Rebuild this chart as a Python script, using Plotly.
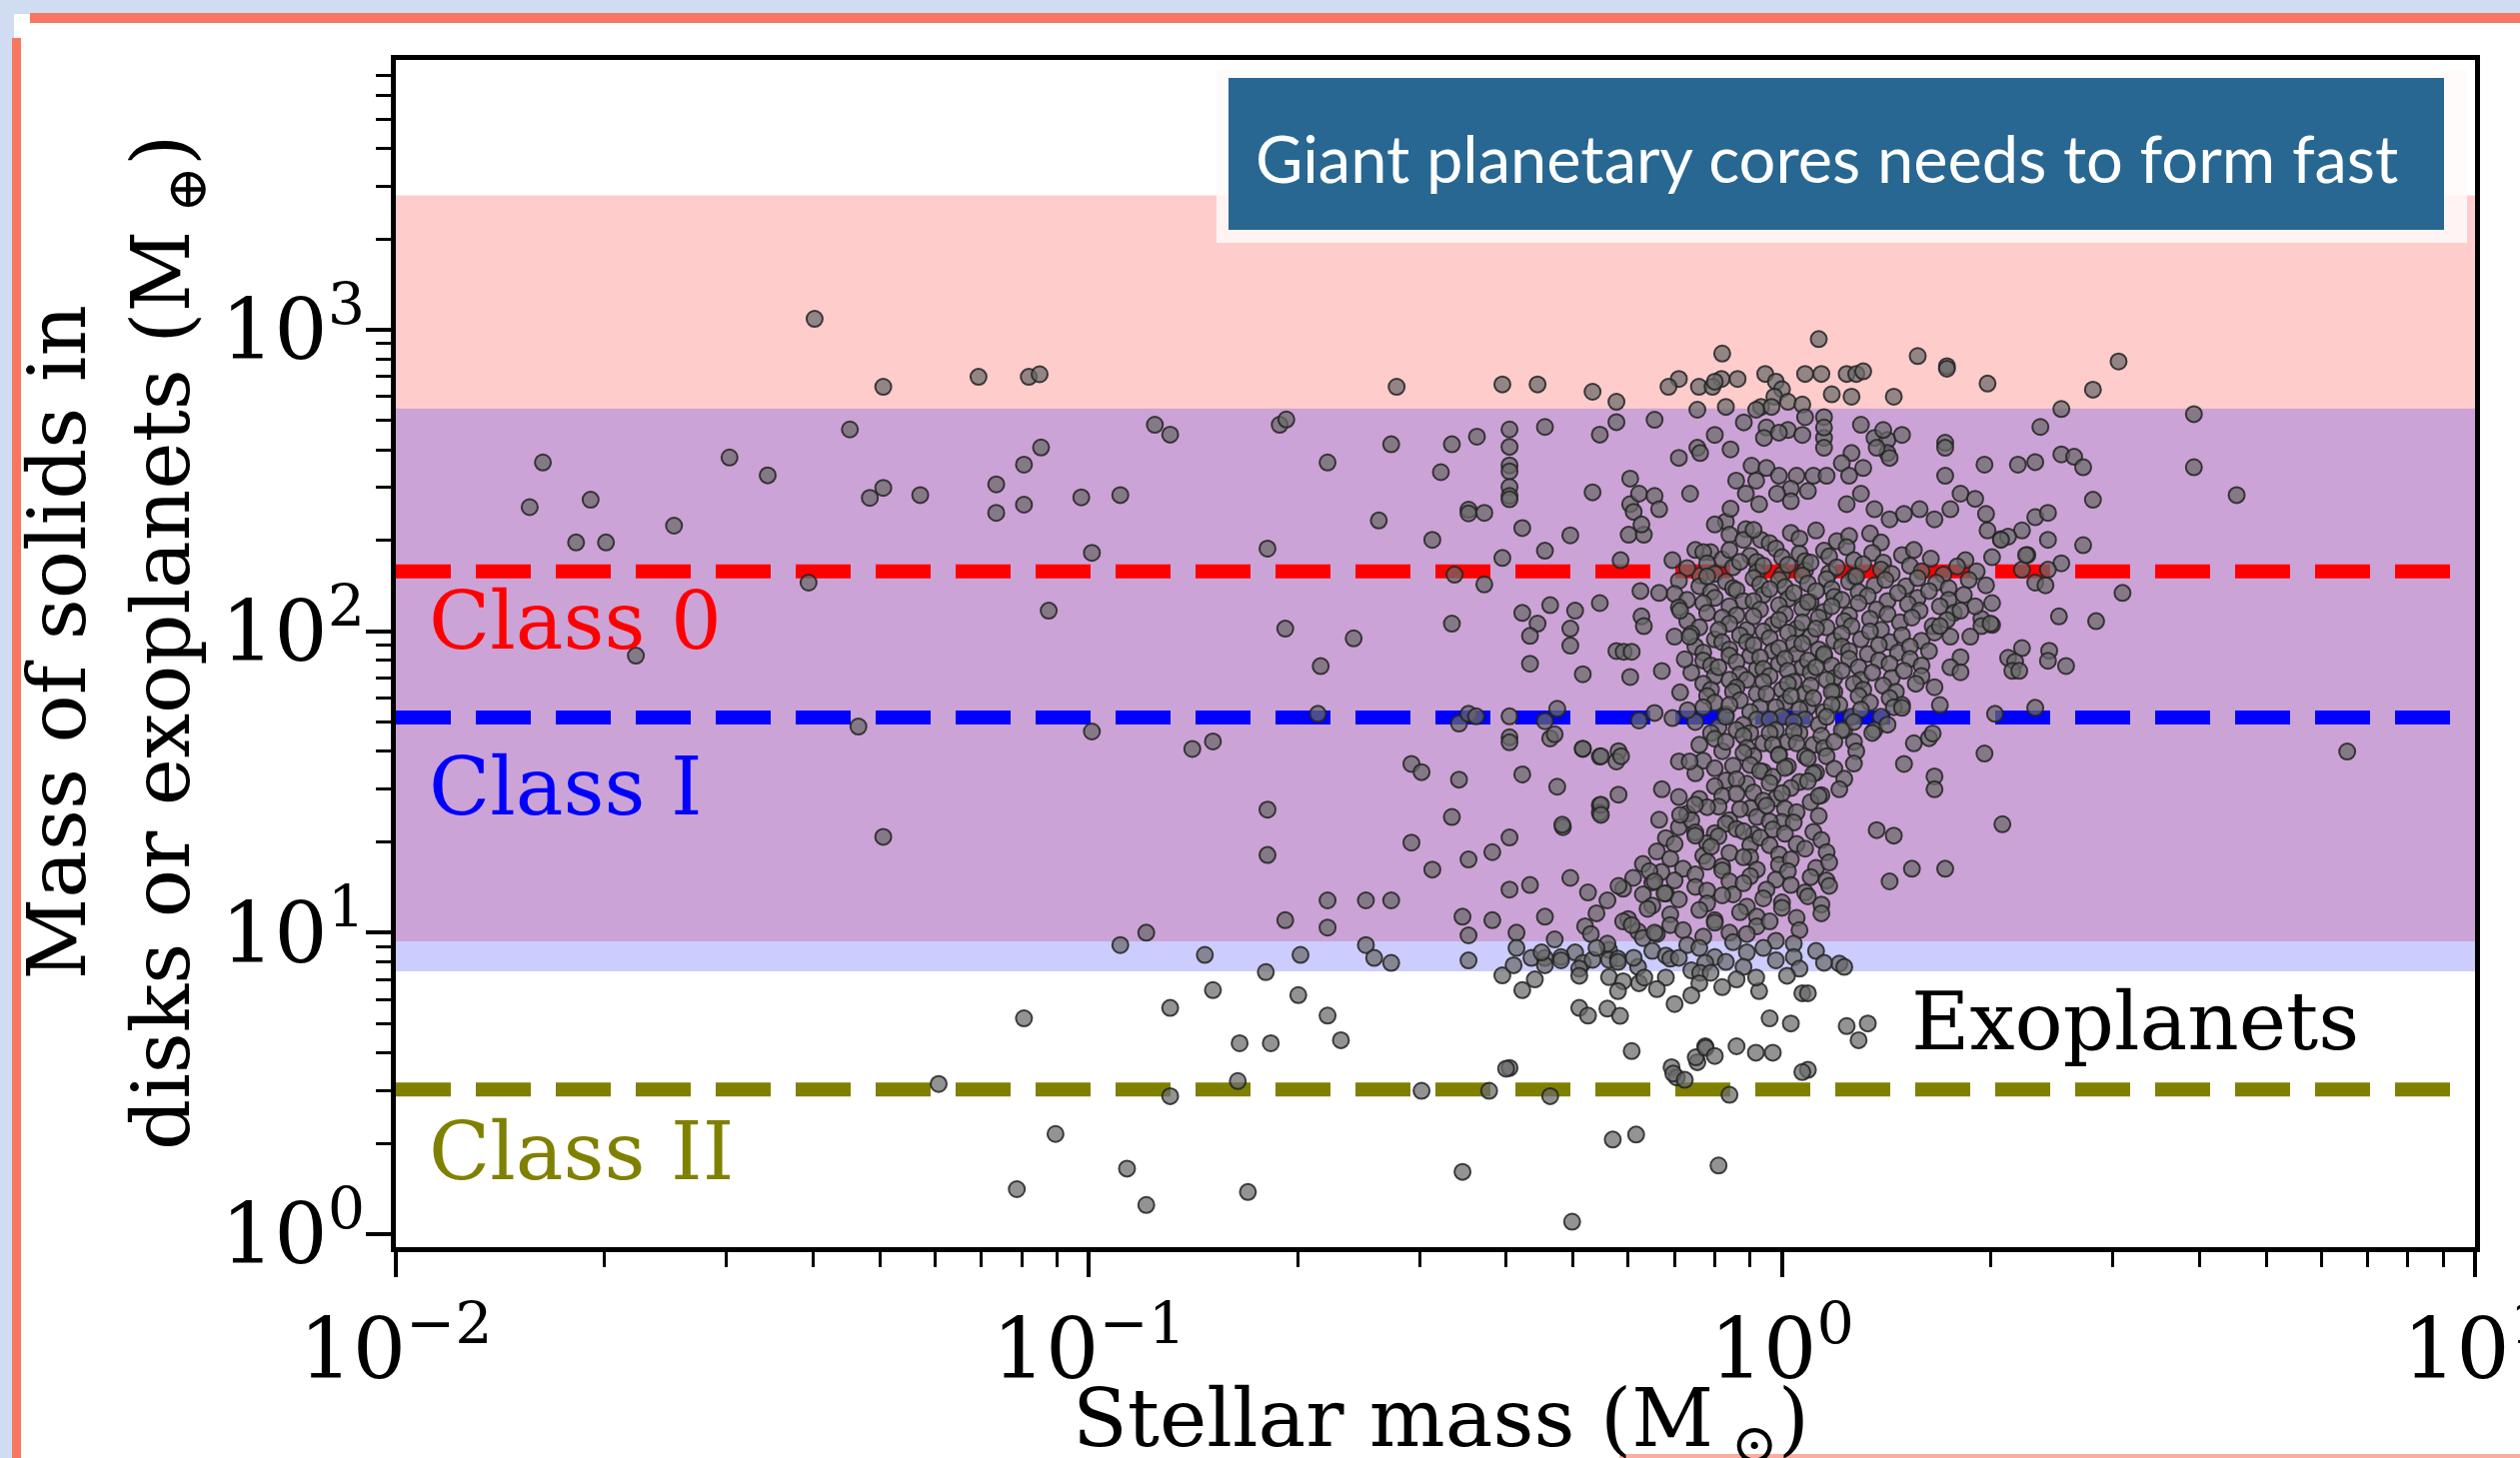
import math
import plotly.graph_objects as go

# ------------------------------------------------------------------ data
# Sparse low-mass stars / brown dwarfs (stellar mass in Msun, solids in Mearth)
lowmass_stellar = [0.0402, 0.0505, 0.0693, 0.0819, 0.0849, 0.0452, 0.0163, 0.0156, 0.0191, 0.0182,
                   0.0201, 0.0252, 0.0303, 0.0344, 0.0483, 0.0505, 0.0571, 0.0735, 0.0735, 0.0806,
                   0.0806, 0.0853, 0.0975, 0.101, 0.0394, 0.0875, 0.0222, 0.0465, 0.101, 0.0505,
                   0.0806, 0.0607, 0.0895, 0.0787]
lowmass_solids = [1087, 647, 698, 698, 712, 467, 363, 258, 273, 197,
                  197, 224, 377, 329, 277, 299, 283, 307, 247, 357,
                  263, 407, 278, 182, 145, 117, 83, 48.3, 46.5, 20.8,
                  5.2, 3.15, 2.15, 1.41]

# Intermediate stellar masses (0.1 - 0.6 Msun)
mid_stellar = [0.278, 0.395, 0.444, 0.533, 0.577, 0.1245, 0.131, 0.1885, 0.1927, 0.273,
               0.221, 0.334, 0.363, 0.4045, 0.4045, 0.4045, 0.4045, 0.4045, 0.4045, 0.4045,
               0.455, 0.546, 0.577, 0.322, 0.111, 0.533, 0.353, 0.353, 0.372, 0.262,
               0.313, 0.181, 0.422, 0.495, 0.455, 0.395, 0.337, 0.372, 0.546, 0.422,
               0.444, 0.433, 0.463, 0.503, 0.495, 0.495, 0.433, 0.516, 0.577, 0.334,
               0.192, 0.241, 0.216, 0.214, 0.342, 0.353, 0.362, 0.4045, 0.4045, 0.4045,
               0.455, 0.463, 0.470, 0.474, 0.141, 0.151, 0.292, 0.302, 0.342, 0.422,
               0.516, 0.546, 0.474, 0.181, 0.181, 0.334, 0.483, 0.546, 0.546, 0.292,
               0.313, 0.353, 0.382, 0.4045, 0.4045, 0.433, 0.495, 0.525, 0.221, 0.221,
               0.192, 0.251, 0.273, 0.346, 0.353, 0.382, 0.455, 0.414, 0.111, 0.121,
               0.147, 0.202, 0.251, 0.258, 0.273, 0.353, 0.414, 0.435, 0.455, 0.455,
               0.503, 0.516, 0.533, 0.563, 0.563, 0.563, 0.131, 0.151, 0.180, 0.2005,
               0.221, 0.231, 0.165, 0.183, 0.395, 0.422, 0.510, 0.525, 0.4045, 0.131,
               0.164, 0.302, 0.378, 0.463, 0.570, 0.616, 0.1135, 0.121, 0.1696, 0.346,
               0.498, 0.81]
mid_solids = [647, 659, 659, 623, 577, 484, 449, 484, 504, 417,
              363, 417, 442, 467, 409, 355, 339, 301, 281, 274,
              476, 449, 494, 337, 283, 289, 253, 246, 247, 233,
              201, 188, 220, 208, 185, 175, 154, 143, 124, 115,
              106, 96.5, 122, 117, 102, 89.6, 78, 72, 86, 106,
              102, 94.7, 76.6, 53.2, 49.4, 53.2, 52.2, 52.2, 44.5, 42.8,
              50.3, 44.1, 45.5, 55.3, 40.7, 43.1, 36.3, 34.1, 32.2, 33.5,
              40.7, 38.4, 30.5, 25.6, 18.1, 24.2, 22.4, 26.5, 25.0, 19.9,
              16.2, 17.5, 18.5, 20.7, 13.9, 14.4, 15.2, 13.6, 12.8, 10.4,
              11.0, 12.8, 12.8, 11.3, 9.8, 11.0, 11.3, 10.0, 9.1, 10.0,
              8.44, 8.44, 9.1, 8.25, 7.94, 8.09, 8.9, 8.25, 8.25, 7.8,
              8.6, 7.94, 8.13, 8.77, 8.13, 7.12, 5.63, 6.45, 7.4, 6.21,
              5.31, 4.40, 4.30, 4.30, 7.22, 6.45, 5.63, 5.31, 3.56, 2.87,
              3.22, 2.99, 2.99, 2.87, 2.06, 2.14, 1.65, 1.25, 1.38, 1.61,
              1.10, 1.69]

# Higher stellar masses (~2 - 7 Msun)
high_stellar = [3.06, 2.81, 1.98, 2.53, 2.36, 3.93, 3.93, 4.53, 6.54, 1.96,
                2.19, 2.32, 2.53, 2.64, 2.72, 2.81, 2.32, 2.42, 2.22, 1.98,
                2.07, 2.12, 2.42, 2.72, 2.26, 2.01, 2.53, 2.22, 2.42, 2.32,
                2.40, 1.97, 3.10, 2.01, 2.51, 2.84, 2.01, 1.94, 2.22, 2.12,
                2.17, 2.15, 2.20, 2.43, 2.42, 2.57, 2.03, 2.32, 1.96, 2.08]
high_solids = [785, 633, 663, 546, 476, 525, 350, 283, 39.9, 357,
               357, 364, 386, 379, 350, 273, 239, 247, 216, 216,
               202, 206, 201, 193, 179, 176, 168, 160, 160, 145,
               142, 142, 134, 124, 112, 108, 105, 110, 87.9, 81.6,
               79.2, 73.9, 73.9, 86.2, 79.8, 76.7, 53.2, 55.7, 39.3, 22.9]

# Solar-type stars, upper part of the distribution
upper_stellar = [1.13, 0.82, 1.57, 1.73, 1.73, 0.946, 1.08, 1.14, 1.24, 1.28,
                 1.31, 0.863, 0.818, 0.71, 0.686, 0.759, 0.794, 0.98, 1.0, 0.975,
                 0.933, 0.966, 1.02, 1.18, 1.26, 1.45, 1.07, 1.15, 0.80, 0.83,
                 0.755, 0.655, 0.71, 0.755, 0.80, 0.843, 0.762, 0.881, 0.95, 0.918,
                 1.02, 1.07, 1.08, 0.942, 0.99, 1.15, 1.15, 1.15, 1.30, 1.36,
                 1.42, 1.42, 1.49, 1.40, 1.72, 1.72, 1.72, 1.26, 1.22, 1.25,
                 1.31, 1.37, 1.43, 0.904, 0.95, 0.918, 0.99, 1.05, 1.11, 1.16,
                 1.03, 1.09, 0.984, 1.03, 0.859, 0.887, 0.927, 0.83, 0.887, 0.933,
                 0.80, 0.843, 0.737, 0.604, 0.604, 0.611, 0.622, 0.655, 0.665, 0.601,
                 0.632, 0.627, 0.585, 0.695, 0.75, 0.789, 0.762, 1.24, 1.30, 1.36,
                 1.43, 1.50, 1.58, 1.66, 1.75, 1.81, 1.90, 1.97, 2.07, 2.25,
                 1.84]
upper_solids = [931, 834, 818, 757, 743, 714, 714, 714, 714, 714,
                728, 687, 687, 687, 647, 647, 647, 673, 635, 600,
                555, 555, 577, 611, 600, 600, 565, 513, 673, 555,
                543, 503, 376, 406, 448, 401, 390, 493, 474, 543,
                465, 448, 513, 438, 456, 438, 406, 474, 484, 438,
                431, 390, 448, 465, 422, 406, 328, 390, 361, 328,
                348, 406, 376, 354, 348, 316, 328, 328, 328, 328,
                297, 292, 286, 270, 316, 286, 264, 231, 218, 201,
                226, 255, 286, 321, 264, 249, 286, 281, 254, 209,
                209, 226, 172, 172, 186, 183, 153, 264, 286, 254,
                235, 245, 254, 235, 254, 286, 275, 245, 201, 179,
                172]

# Dense core of the solar-type population (one line per band of solid mass)
core_stellar = (
    [0.84, 0.88, 0.91, 0.96, 1.03, 1.06, 1.12, 1.20, 1.25, 1.34, 1.39]
    + [0.77, 0.82, 0.84, 0.90, 0.92, 0.98, 1.00, 1.06, 1.08, 1.15, 1.17, 1.24, 1.27, 1.35, 1.40, 1.49, 1.55, 1.64]
    + [0.73, 0.78, 0.80, 0.85, 0.87, 0.92, 0.94, 1.00, 1.02, 1.08, 1.10, 1.17, 1.20, 1.27, 1.31, 1.39, 1.44, 1.53, 1.59, 1.71, 1.79, 1.91]
    + [0.71, 0.76, 0.78, 0.83, 0.85, 0.91, 0.93, 0.99, 1.01, 1.07, 1.09, 1.16, 1.18, 1.25, 1.28, 1.36, 1.41, 1.51, 1.57, 1.67, 1.74, 1.86]
    + [0.70, 0.73, 0.79, 0.80, 0.86, 0.88, 0.94, 0.96, 1.02, 1.04, 1.10, 1.12, 1.19, 1.22, 1.29, 1.33, 1.42, 1.47, 1.57, 1.63, 1.74, 1.83]
    + [0.71, 0.77, 0.78, 0.84, 0.86, 0.91, 0.93, 0.99, 1.01, 1.07, 1.09, 1.15, 1.18, 1.25, 1.29, 1.37, 1.42, 1.52, 1.58, 1.69, 1.77]
    + [0.73, 0.76, 0.82, 0.84, 0.89, 0.91, 0.97, 0.99, 1.05, 1.07, 1.13, 1.16, 1.23, 1.26, 1.34, 1.39, 1.48, 1.54, 1.65, 1.73]
    + [0.74, 0.80, 0.81, 0.87, 0.89, 0.94, 0.96, 1.02, 1.04, 1.10, 1.12, 1.19, 1.22, 1.30, 1.34, 1.43, 1.49, 1.59, 1.66]
    + [0.75, 0.77, 0.82, 0.84, 0.90, 0.91, 0.97, 0.99, 1.05, 1.07, 1.13, 1.15, 1.22, 1.25, 1.33, 1.38, 1.47, 1.53, 1.63]
    + [0.77, 0.79, 0.84, 0.86, 0.92, 0.93, 0.99, 1.01, 1.07, 1.09, 1.15, 1.18, 1.25, 1.29, 1.38, 1.43, 1.53, 1.59]
    + [0.74, 0.80, 0.81, 0.87, 0.89, 0.94, 0.96, 1.02, 1.04, 1.10, 1.12, 1.19, 1.22, 1.30, 1.35, 1.44, 1.50, 1.59]
    + [0.77, 0.79, 0.84, 0.86, 0.92, 0.94, 1.00, 1.02, 1.08, 1.10, 1.16, 1.19, 1.27, 1.31, 1.40, 1.46, 1.56]
    + [0.78, 0.80, 0.85, 0.87, 0.93, 0.95, 1.01, 1.03, 1.09, 1.11, 1.18, 1.21, 1.29, 1.34, 1.43, 1.49]
    + [0.77, 0.83, 0.84, 0.90, 0.92, 0.98, 1.00, 1.06, 1.08, 1.15, 1.18, 1.26, 1.30, 1.39, 1.45]
    + [0.75, 0.81, 0.83, 0.88, 0.90, 0.96, 0.98, 1.04, 1.06, 1.13, 1.16, 1.23, 1.27, 1.36, 1.42]
    + [0.79, 0.80, 0.86, 0.88, 0.94, 0.96, 1.02, 1.04, 1.11, 1.14, 1.22, 1.27, 1.35]
    + [0.76, 0.82, 0.83, 0.89, 0.91, 0.97, 0.99, 1.05, 1.08, 1.15, 1.19, 1.28]
    + [0.77, 0.80, 0.88, 0.90, 0.94, 0.99, 1.02, 1.09, 1.12, 1.16, 1.27]
    + [0.75, 0.83, 0.85, 0.89, 0.93, 0.97, 1.01, 1.06, 1.11, 1.19, 1.23]
    + [0.80, 0.82, 0.86, 0.91, 0.96, 0.98, 1.03, 1.09, 1.14, 1.21]
    + [0.76, 0.81, 0.86, 0.90, 0.94, 1.00, 1.01, 1.10, 1.13]
    + [0.73, 0.78, 0.84, 0.87, 0.92, 0.95, 1.00, 1.05, 1.13]
    + [0.71, 0.74, 0.80, 0.83, 0.86, 0.91, 0.96, 0.97, 1.04, 1.11]
    + [0.68, 0.75, 0.78, 0.81, 0.88, 0.90, 0.93, 1.01, 1.05, 1.14]
    + [0.66, 0.70, 0.77, 0.79, 0.84, 0.90, 0.96, 0.99, 1.08, 1.16]
    + [0.63, 0.69, 0.72, 0.78, 0.82, 0.88, 0.92, 0.99, 1.03, 1.12, 1.17]
    + [0.61, 0.67, 0.70, 0.75, 0.82, 0.84, 0.90, 0.98, 1.02, 1.10, 1.16]
    + [0.59, 0.65, 0.68, 0.75, 0.78, 0.85, 0.88, 0.95, 1.03, 1.08, 1.17]
    + [0.56, 0.63, 0.65, 0.71, 0.78, 0.82, 0.89, 0.94, 1.00, 1.09, 1.14]
    + [0.54, 0.60, 0.64, 0.69, 0.76, 0.80, 0.87, 0.92, 1.00, 1.05, 1.14]
    + [0.52, 0.59, 0.62, 0.69, 0.72, 0.80, 0.84, 0.92, 0.96, 1.06]
    + [0.47, 0.53, 0.56, 0.63, 0.66, 0.73, 0.77, 0.85, 0.89, 0.98, 1.04]
    + [0.45, 0.48, 0.54, 0.58, 0.65, 0.68, 0.76, 0.80, 0.89, 0.94, 1.04, 1.12]
    + [0.41, 0.48, 0.51, 0.58, 0.62, 0.69, 0.74, 0.83, 0.88, 0.98, 1.06, 1.21]
)
core_solids = (
    [209, 201, 217, 196, 212, 203, 216, 199, 207, 211, 197]
    + [183, 173, 186, 178, 170, 188, 176, 181, 171, 185, 177, 190, 172, 182, 169, 179, 186, 174]
    + [162, 168, 155, 163, 170, 157, 165, 154, 166, 159, 169, 156, 163, 152, 167, 160, 155, 165, 158, 154, 164, 158]
    + [147, 141, 152, 146, 139, 150, 143, 148, 140, 153, 144, 149, 138, 146, 152, 142, 148, 141, 150, 145, 139, 148]
    + [133, 127, 135, 129, 137, 126, 132, 138, 128, 134, 125, 136, 130, 127, 135, 131, 126, 134, 129, 136, 127, 132]
    + [120, 124, 115, 121, 113, 126, 118, 122, 114, 119, 125, 116, 121, 113, 124, 118, 114, 123, 117, 121, 115]
    + [108, 103, 111, 106, 101, 112, 105, 109, 102, 107, 111, 103, 108, 104, 110, 101, 107, 111, 104, 109]
    + [98, 94, 101, 97, 92, 100, 95, 99, 91, 96, 102, 93, 98, 94, 100, 92, 97, 93, 99]
    + [89, 85, 92, 87, 83, 90, 86, 88, 84, 91, 87, 83, 89, 86, 84, 90, 85, 89, 86]
    + [80, 77, 83, 79, 75, 82, 78, 81, 76, 80, 84, 77, 81, 76, 80, 78, 81, 77]
    + [73, 71, 76, 72, 69, 75, 71, 74, 68, 73, 76, 70, 74, 69, 73, 70, 74, 71]
    + [67, 64, 69, 65, 62, 68, 64, 67, 62, 66, 69, 63, 67, 64, 66, 63, 67]
    + [61, 58, 63, 59, 56, 62, 58, 61, 56, 60, 63, 57, 61, 58, 60, 57]
    + [56, 53, 57, 54, 51, 56, 52, 55, 51, 54, 57, 52, 55, 52, 56]
    + [50, 48, 52, 49, 46, 51, 47, 50, 46, 49, 52, 47, 50, 47, 49]
    + [46, 44, 47, 45, 42.5, 46, 43, 46.5, 42, 45, 47, 43, 46]
    + [42, 40, 43, 41, 38.5, 42, 39, 42.5, 38.5, 41, 43, 40]
    + [37.2, 35.1, 39.5, 36.0, 34.2, 38.8, 35.6, 37.9, 34.0, 38.5, 36.4]
    + [33.8, 32.0, 35.8, 31.2, 34.4, 32.9, 35.2, 31.6, 33.7, 35.0, 32.4]
    + [30.6, 28.4, 32.3, 29.2, 31.4, 27.9, 30.2, 31.8, 28.6, 29.9]
    + [27.8, 26.2, 28.9, 25.9, 27.4, 29.0, 25.8, 27.1, 28.4]
    + [24.8, 26.1, 23.6, 25.7, 24.2, 26.4, 23.3, 25.1, 24.4]
    + [22.4, 23.6, 21.4, 23.0, 22.1, 21.2, 23.4, 22.0, 23.2, 21.6]
    + [20.6, 21.5, 19.8, 20.9, 21.7, 19.5, 20.7, 21.3, 19.7, 20.3]
    + [18.6, 19.7, 18.0, 19.3, 18.4, 17.8, 19.5, 18.2, 19.0, 18.5]
    + [16.9, 17.6, 16.3, 17.2, 16.6, 17.8, 16.2, 16.8, 17.5, 16.4, 17.1]
    + [15.2, 15.9, 14.9, 15.6, 16.1, 14.8, 15.4, 15.0, 16.0, 15.3, 14.9]
    + [14.0, 14.7, 13.5, 14.2, 13.8, 13.4, 14.6, 13.9, 14.4, 13.6, 14.3]
    + [12.8, 13.4, 12.3, 12.9, 12.5, 13.3, 12.2, 13.0, 12.6, 13.2, 12.4]
    + [11.6, 11.1, 12.0, 11.5, 11.9, 11.0, 11.7, 11.3, 12.1, 11.2, 11.6]
    + [10.5, 10.9, 10.1, 10.6, 10.2, 10.8, 10.0, 10.5, 10.9, 10.2]
    + [9.5, 9.9, 9.2, 9.6, 9.9, 9.1, 9.7, 9.3, 9.9, 9.4, 9.2]
    + [8.6, 8.3, 8.9, 8.2, 8.7, 8.4, 8.9, 8.3, 8.6, 8.9, 8.3, 8.7]
    + [7.8, 8.1, 7.6, 8.0, 7.7, 8.2, 7.5, 8.0, 7.7, 8.1, 7.6, 7.9]
)

# Edges of the solar-type population
edge_stellar = [0.625, 0.665, 0.713, 0.700, 0.736, 0.724, 0.671, 0.713, 0.627, 0.632,
                0.591, 0.607, 0.604, 0.655, 0.622, 0.695, 0.731, 0.516, 0.548, 0.581,
                0.577, 0.586, 0.710, 0.736, 0.671, 0.710, 0.749, 0.548, 0.548, 0.581,
                0.665, 0.713, 0.75, 0.482, 0.581, 0.644, 0.655, 0.677, 0.607, 0.655,
                0.611, 0.622, 0.633, 0.71, 0.775, 0.762, 0.789, 0.927, 0.918, 1.017,
                1.07, 1.09, 1.15, 1.23, 1.03, 0.917, 0.775, 0.755, 0.693, 0.705,
                1.33, 1.29, 1.09, 0.607, 0.697, 0.724, 0.751, 0.776, 1.07, 0.56,
                0.584, 0.40, 1.94, 2.0, 1.87, 1.81, 1.75, 1.90, 1.69, 1.81,
                1.63, 1.66, 1.66, 1.72, 1.54, 1.43, 1.37, 1.45, 1.50, 1.55,
                1.65, 1.49, 1.69, 1.75, 1.81, 1.66, 0.44, 0.51, 0.59, 0.68,
                0.76, 0.86, 0.58, 0.66, 0.74, 0.82, 0.70, 0.96, 1.24, 0.86,
                0.80, 0.84, 0.97]
edge_solids = [136, 134, 117, 96, 96, 80.7, 73.8, 62.7, 112, 104,
               85.5, 85.5, 70.5, 53.6, 50.6, 51.5, 54.7, 40.8, 38.5, 40,
               37, 38.5, 37, 37, 29.9, 28.2, 26.6, 26.6, 24.6, 28.7,
               23.7, 24.6, 21, 22.8, 14.3, 16.0, 14.8, 13.5, 10.6, 10.0,
               8.26, 6.8, 7.1, 8.26, 7.95, 7.36, 7.36, 6.4, 7.1, 7.2,
               6.3, 6.3, 7.95, 7.7, 5.0, 4.0, 4.2, 3.72, 3.58, 3.31,
               5.0, 4.4, 3.51, 4.05, 3.41, 3.25, 3.86, 4.15, 3.45, 5.6,
               5.3, 3.54, 104, 106, 96, 82, 96, 121, 104, 117,
               44.2, 33, 29.9, 16.3, 16.3, 14.8, 21.9, 21, 36.3, 42.5,
               45.8, 55.7, 56.9, 76, 73.1, 65.2, 7.0, 7.2, 6.9, 7.1,
               6.8, 7.0, 6.4, 6.5, 6.2, 6.6, 5.8, 5.2, 4.9, 4.2,
               3.9, 2.9, 4.0]

stellar_mass = lowmass_stellar + mid_stellar + high_stellar + upper_stellar + core_stellar + edge_stellar
solid_mass = lowmass_solids + mid_solids + high_solids + upper_solids + core_solids + edge_solids
assert len(core_stellar) == len(core_solids)
assert len(stellar_mass) == len(solid_mass)

# Median masses of the disk classes (dashed lines) and their labels
class_names = ["Class 0", "Class I", "Class II"]
class_medians = [158, 51.7, 3.02]
class_colors = ["#ff0000", "#0000ff", "#808000"]
class_label_x = [0.0111, 0.0111, 0.0111]
class_label_y = [107.7, 30.5, 1.88]

# Shaded ranges (red: Class 0 range, blue: Class I range)
band_low = [9.36, 7.45]
band_high = [2790, 548]
band_colors = ["rgba(255,0,0,0.2)", "rgba(0,0,255,0.2)"]

exo_label = "Exoplanets"
exo_label_x = 1.527
exo_label_y = 5.05

box_title = "Giant planetary cores needs to form fast"

x_tickvals = [0.01, 0.1, 1, 10]
x_ticktext = ["10<sup>−2</sup>", "10<sup>−1</sup>", "10<sup>0</sup>", "10<sup>1</sup>"]
y_tickvals = [1, 10, 100, 1000]
y_ticktext = ["10<sup>0</sup>", "10<sup>1</sup>", "10<sup>2</sup>", "10<sup>3</sup>"]
minor_mult = [2, 3, 4, 5, 6, 7, 8, 9]

x_title = "Stellar mass (M<sub> ⊙</sub>)"
y_title = "Mass of solids in<br>disks or exoplanets (M<sub> ⊕</sub>)"

# ------------------------------------------------------------------ layout geometry
W, H = 2521, 1459
L, R, T, B = 396, 45, 60, 211
PW, PH = W - L - R, H - T - B


def px(X):
    return (X - L) / PW


def py(Y):
    return (H - B - Y) / PH


SERIF = "DejaVu Serif"

fig = go.Figure()

# dashed class lines
for name, med, col in zip(class_names, class_medians, class_colors):
    fig.add_trace(go.Scatter(x=[0.01, 10], y=[med, med], mode="lines",
                             line=dict(color=col, width=14, dash="55px,25px"),
                             hoverinfo="skip", showlegend=False))

# scatter of disks / exoplanets
fig.add_trace(go.Scatter(
    x=stellar_mass, y=solid_mass, mode="markers",
    marker=dict(size=16, color="rgba(105,105,105,0.72)",
                line=dict(color="rgba(35,35,35,0.85)", width=2)),
    showlegend=False))

shapes = []
# bands
for lo, hi, col in zip(band_low, band_high, band_colors):
    shapes.append(dict(type="rect", xref="x", yref="y", x0=0.01, x1=10, y0=lo, y1=hi,
                       fillcolor=col, line=dict(width=0), layer="below"))

# page decoration (blue page background strips + torn red edges)
bg_blue = "rgb(208,220,241)"
edge_red = "rgb(247,118,98)"
shapes += [
    dict(type="rect", xref="paper", yref="paper", x0=px(0), x1=px(W), y0=py(14), y1=py(0),
         fillcolor=bg_blue, line=dict(width=0), layer="below"),
    dict(type="rect", xref="paper", yref="paper", x0=px(0), x1=px(14), y0=py(H), y1=py(0),
         fillcolor=bg_blue, line=dict(width=0), layer="below"),
    dict(type="rect", xref="paper", yref="paper", x0=px(30), x1=px(W), y0=py(23), y1=py(13),
         fillcolor=edge_red, line=dict(width=0), layer="above"),
    dict(type="rect", xref="paper", yref="paper", x0=px(12), x1=px(21), y0=py(H), y1=py(38),
         fillcolor=edge_red, line=dict(width=0), layer="above"),
    dict(type="rect", xref="paper", yref="paper", x0=px(1620), x1=px(W), y0=py(H), y1=py(1455),
         fillcolor="rgba(247,118,98,0.6)", line=dict(width=0), layer="above"),
    # title box
    dict(type="rect", xref="paper", yref="paper", x0=px(1217), x1=px(2468), y0=py(243), y1=py(70),
         fillcolor="rgba(255,250,249,0.85)", line=dict(width=0), layer="above"),
    dict(type="rect", xref="paper", yref="paper", x0=px(1229), x1=px(2445), y0=py(230), y1=py(78),
         fillcolor="rgb(40,103,145)", line=dict(width=0), layer="above"),
]

annotations = []
for name, lx, ly, col in zip(class_names, class_label_x, class_label_y, class_colors):
    annotations.append(dict(x=math.log10(lx), y=math.log10(ly), xref="x", yref="y", text=name,
                            showarrow=False, xanchor="left", yanchor="middle",
                            font=dict(family=SERIF, size=80, color=col)))
annotations.append(dict(x=math.log10(exo_label_x), y=math.log10(exo_label_y), xref="x", yref="y",
                        text=exo_label, showarrow=False, xanchor="left", yanchor="middle",
                        font=dict(family=SERIF, size=80, color="black")))
annotations.append(dict(x=px(1827), y=py(158), xref="paper", yref="paper", text=box_title,
                        showarrow=False, xanchor="center", yanchor="middle",
                        font=dict(family="Lato", size=65, color="white", weight=400)))
annotations.append(dict(x=px(1441), y=py(1425), xref="paper", yref="paper", text=x_title,
                        showarrow=False, xanchor="center", yanchor="middle",
                        font=dict(family=SERIF, size=80, color="black")))
annotations.append(dict(x=px(115), y=py(643), xref="paper", yref="paper", text=y_title,
                        showarrow=False, xanchor="center", yanchor="middle", textangle=-90,
                        font=dict(family=SERIF, size=80, color="black")))

minor_x = [m * 10.0 ** e for e in (-2, -1, 0) for m in minor_mult]
minor_y = [m * 10.0 ** e for e in (0, 1, 2, 3) for m in minor_mult]

axis_common = dict(type="log", showline=True, linewidth=5, linecolor="black", mirror=True,
                   ticks="outside", ticklen=25, tickwidth=3.5, tickcolor="black",
                   tickmode="array", showgrid=False, zeroline=False, automargin=False,
                   tickfont=dict(family=SERIF, size=84, color="black"))

fig.update_layout(
    width=W, height=H, margin=dict(l=L, r=R, t=T, b=B, pad=0, autoexpand=False),
    paper_bgcolor="white", plot_bgcolor="white", showlegend=False,
    font=dict(family=SERIF, color="black"),
    xaxis=dict(axis_common, range=[-2, 1], tickvals=x_tickvals, ticktext=x_ticktext,
               ticklabeloverflow="allow",
               minor=dict(tickmode="array", tickvals=minor_x, ticks="outside", ticklen=15,
                          tickwidth=2.5, tickcolor="black", showgrid=False)),
    yaxis=dict(axis_common, range=[-0.043, 3.895], tickvals=y_tickvals, ticktext=y_ticktext,
               ticklabelstandoff=-16,
               minor=dict(tickmode="array", tickvals=minor_y, ticks="outside", ticklen=15,
                          tickwidth=2.5, tickcolor="black", showgrid=False)),
    shapes=shapes, annotations=annotations,
)

fig.write_html("out.html", config={"displayModeBar": False},
               post_script="document.body.style.margin='0';document.body.style.overflow='hidden';")
